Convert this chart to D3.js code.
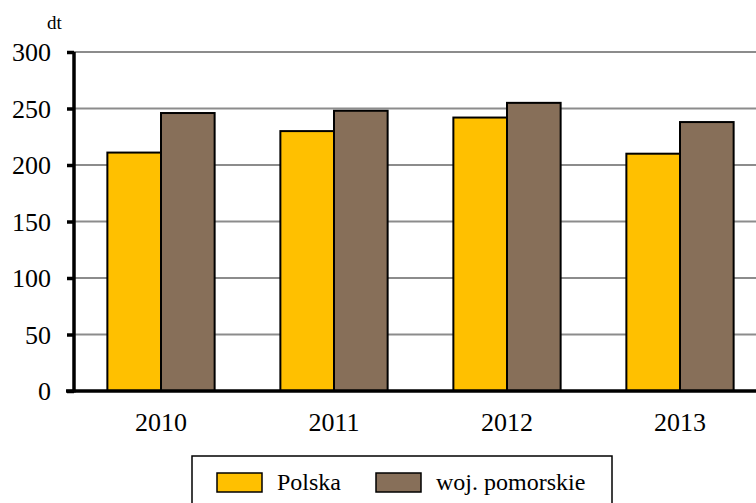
<!DOCTYPE html>
<html><head><meta charset="utf-8">
<script src="https://cdn.jsdelivr.net/npm/d3@7"></script>
<style>html,body{margin:0;padding:0;background:#fff;overflow:hidden}
svg text{font-family:'Liberation Serif','Times New Roman',serif;}</style>
</head><body>
<svg id="c" width="756" height="503"></svg>
<script>
const years = ["2010","2011","2012","2013"];
const seriesNames = ["Polska","woj. pomorskie"];
const polska = [211, 230, 242, 210];
const pomorskie = [246, 248, 255, 238];
const yTicks = [0,50,100,150,200,250,300];
const unitLabel = "dt";
const colors = ["#FFC000","#876F59"];

const svg = d3.select("#c");
const font = "Liberation Serif";
const x = d3.scaleBand().domain(years).range([74.5, 766.5]).paddingInner(0.38).paddingOuter(0.19);
const xs = d3.scaleBand().domain(seriesNames).range([0, x.bandwidth()]);
const y = d3.scaleLinear().domain([0,300]).range([391, 52]);

// gridlines
svg.append("g").selectAll("line").data(yTicks.filter(d=>d>0)).join("line")
  .attr("x1",74).attr("x2",756).attr("y1",d=>y(d)).attr("y2",d=>y(d))
  .attr("stroke","#8c8c8c").attr("stroke-width",2);

const data = years.map((yr,i)=>({year:yr, vals:[polska[i], pomorskie[i]]}));
const g = svg.append("g").selectAll("g").data(data).join("g")
  .attr("transform",d=>`translate(${x(d.year)},0)`);
g.selectAll("rect").data(d=>d.vals.map((v,j)=>({v, s:seriesNames[j], c:colors[j]}))).join("rect")
  .attr("x",d=>xs(d.s)).attr("width",xs.bandwidth())
  .attr("y",d=>y(d.v)).attr("height",d=>y(0)-y(d.v))
  .attr("fill",d=>d.c).attr("stroke","#000").attr("stroke-width",2);

// y axis
const ya = svg.append("g").attr("transform","translate(74,0)")
  .call(d3.axisLeft(y).tickValues(yTicks).tickSize(7).tickPadding(16))
  .attr("font-family",font).attr("font-size",26);
ya.select(".domain").attr("stroke","#000").attr("stroke-width",3.5).attr("d","M0,"+y(300)+"V"+(y(0)+1.5));
ya.selectAll(".tick line").attr("stroke","#000").attr("stroke-width",3.5);
ya.selectAll(".tick text").attr("fill","#000").attr("dy","0.34em");

// x axis
const xa = svg.append("g").attr("transform",`translate(0,${y(0)})`)
  .call(d3.axisBottom(x).tickSize(0).tickPadding(22))
  .attr("font-family",font).attr("font-size",26);
xa.select(".domain").attr("stroke","#000").attr("stroke-width",3.5).attr("d","M66,0H756");
xa.selectAll(".tick text").attr("fill","#000");

svg.append("text").attr("x",47).attr("y",29).attr("font-size","19px").text(unitLabel);

// legend
const lg = svg.append("g");
lg.append("rect").attr("x",192).attr("y",456).attr("width",420).attr("height",60)
  .attr("fill","#fff").attr("stroke","#000").attr("stroke-width",1.5);
const lx = [217, 376];
seriesNames.forEach((s,i)=>{
  lg.append("rect").attr("x",lx[i]).attr("y",473).attr("width",45).attr("height",19)
    .attr("fill",colors[i]).attr("stroke","#000").attr("stroke-width",1.5);
  lg.append("text").attr("x",lx[i]+60).attr("y",490)
    .attr("font-size","24px").attr("fill","#000").text(s);
});
</script>
</body></html>
